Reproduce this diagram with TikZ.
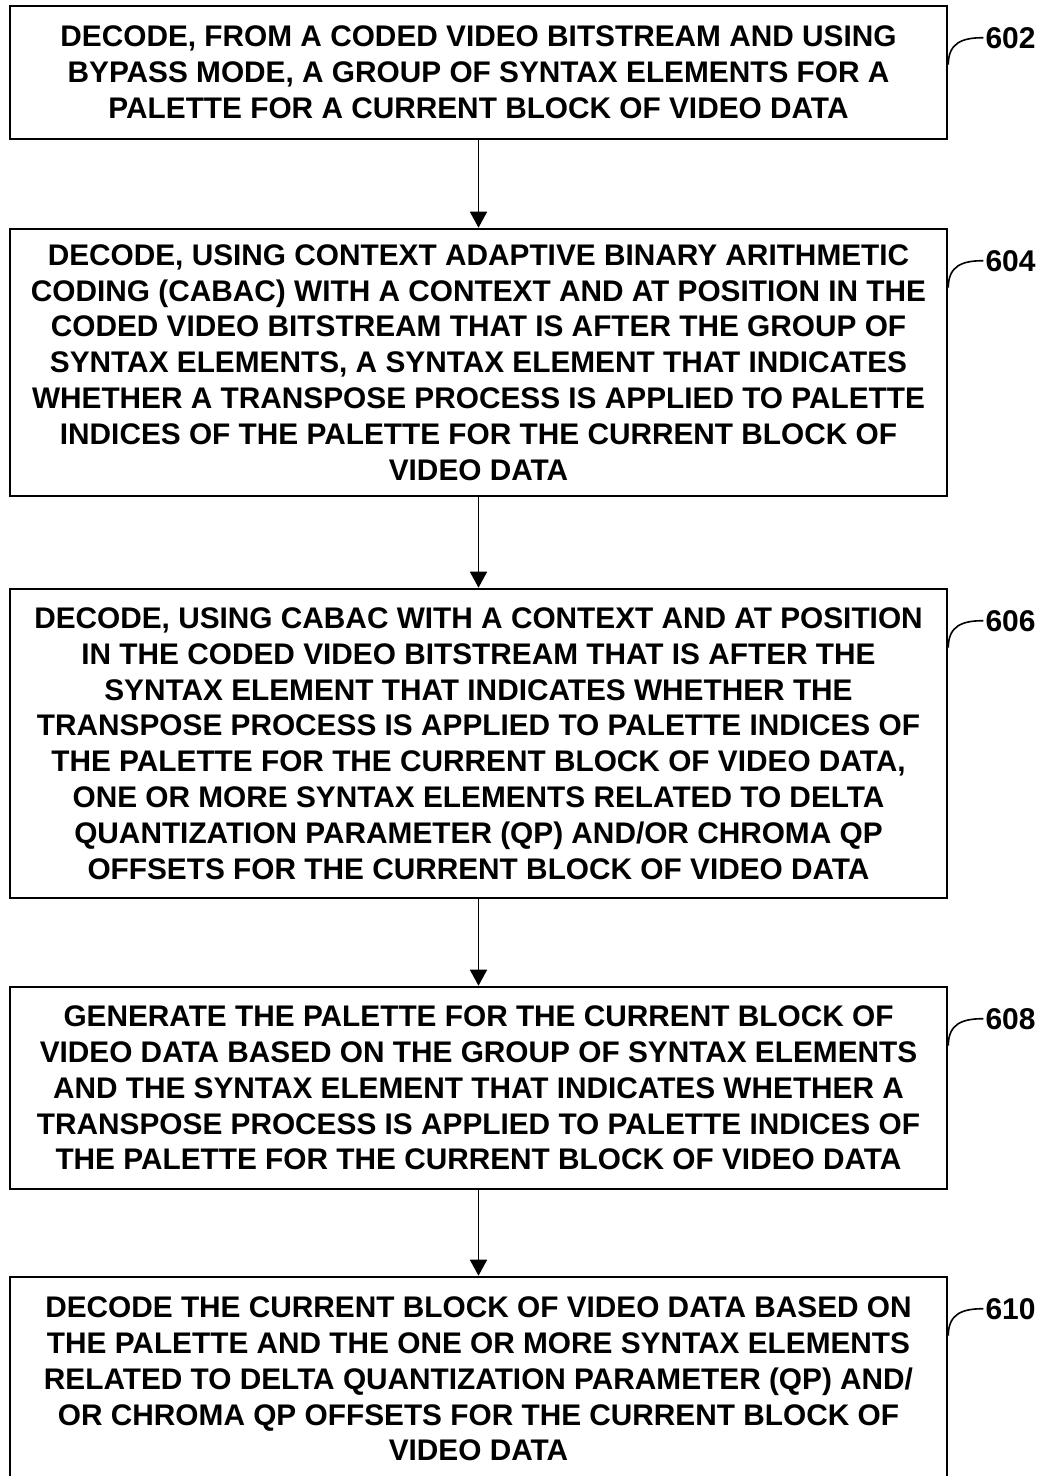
\documentclass[tikz,border=0pt]{standalone}
\usepackage{fontspec}
\setmainfont{Liberation Sans}
\usetikzlibrary{arrows.meta}
\begin{document}
\begin{tikzpicture}[x=1pt,y=1pt,
  stepbox/.style={draw,line width=2.6pt,minimum width=937pt,inner sep=0pt,align=center,
    font=\fontsize{29.8}{35.8}\selectfont\bfseries},
  flow/.style={line width=1.6pt,-{Triangle[length=16pt,width=17pt]}},
  reflabel/.style={font=\fontsize{30}{32}\selectfont\bfseries,anchor=west,inner sep=0pt},
  leader/.style={line width=1.6pt}]
\useasboundingbox (0,0) rectangle (1042,-1476);
\node[stepbox,minimum height=133pt] (b602) at (478.5,-72.5) {DECODE, FROM A CODED VIDEO BITSTREAM AND USING\\BYPASS MODE, A GROUP OF SYNTAX ELEMENTS FOR A\\PALETTE FOR A CURRENT BLOCK OF VIDEO DATA};
\node[stepbox,minimum height=267pt] (b604) at (478.5,-362.5) {DECODE, USING CONTEXT ADAPTIVE BINARY ARITHMETIC\\CODING (CABAC) WITH A CONTEXT AND AT POSITION IN THE\\CODED VIDEO BITSTREAM THAT IS AFTER THE GROUP OF\\SYNTAX ELEMENTS, A SYNTAX ELEMENT THAT INDICATES\\WHETHER A TRANSPOSE PROCESS IS APPLIED TO PALETTE\\INDICES OF THE PALETTE FOR THE CURRENT BLOCK OF\\VIDEO DATA};
\node[stepbox,minimum height=309pt] (b606) at (478.5,-743.5) {DECODE, USING CABAC WITH A CONTEXT AND AT POSITION\\IN THE CODED VIDEO BITSTREAM THAT IS AFTER THE\\SYNTAX ELEMENT THAT INDICATES WHETHER THE\\TRANSPOSE PROCESS IS APPLIED TO PALETTE INDICES OF\\THE PALETTE FOR THE CURRENT BLOCK OF VIDEO DATA,\\ONE OR MORE SYNTAX ELEMENTS RELATED TO DELTA\\QUANTIZATION PARAMETER (QP) AND/OR CHROMA QP\\OFFSETS FOR THE CURRENT BLOCK OF VIDEO DATA};
\node[stepbox,minimum height=202pt] (b608) at (478.5,-1088) {GENERATE THE PALETTE FOR THE CURRENT BLOCK OF\\VIDEO DATA BASED ON THE GROUP OF SYNTAX ELEMENTS\\AND THE SYNTAX ELEMENT THAT INDICATES WHETHER A\\TRANSPOSE PROCESS IS APPLIED TO PALETTE INDICES OF\\THE PALETTE FOR THE CURRENT BLOCK OF VIDEO DATA};
\node[stepbox,minimum height=204pt] (b610) at (478.5,-1379) {DECODE THE CURRENT BLOCK OF VIDEO DATA BASED ON\\THE PALETTE AND THE ONE OR MORE SYNTAX ELEMENTS\\RELATED TO DELTA QUANTIZATION PARAMETER (QP) AND/\\OR CHROMA QP OFFSETS FOR THE CURRENT BLOCK OF\\VIDEO DATA};
\foreach \a/\b in {b602/b604,b604/b606,b606/b608,b608/b610}
  \draw[flow] (\a.south) -- (\b.north);
\foreach \n in {602,604,606,608,610} {
  \node[reflabel] (l\n) at ([xshift=37pt,yshift=-33pt]b\n.north east) {\n};
  \draw[leader] ([yshift=-60pt]b\n.north east) .. controls ([yshift=-38pt]b\n.north east) and ([xshift=14pt,yshift=-33pt]b\n.north east) .. ([xshift=-2pt]l\n.west);
}
\end{tikzpicture}
\end{document}
